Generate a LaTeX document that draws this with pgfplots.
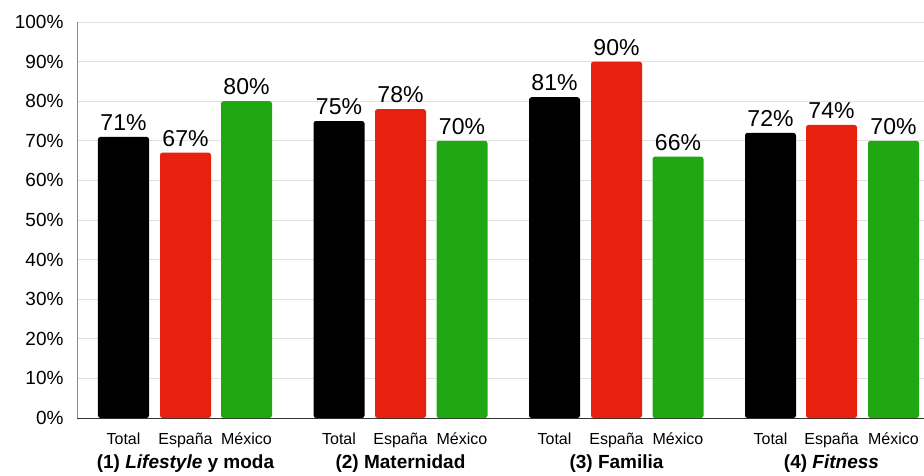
\documentclass[border=0pt]{standalone}
\usepackage{pgfplots}
\pgfplotsset{compat=1.18}
\usepackage{fontspec}
\setmainfont{Liberation Sans}

\definecolor{barred}{RGB}{232,32,14}
\definecolor{bargreen}{RGB}{32,168,18}
\definecolor{gridgray}{RGB}{224,224,224}

\begin{document}
\begin{tikzpicture}
\useasboundingbox (0,0) rectangle (924pt,475pt);
\begin{axis}[
  at={(77pt,57pt)}, anchor=south west,
  scale only axis, width=847pt, height=396pt,
  xmin=77, xmax=924, ymin=0, ymax=100,
  axis lines=left, axis line style={-},
  x axis line style={draw=black!80, line width=0.8pt},
  y axis line style={draw=black!45, line width=0.8pt},
  ymajorgrids, grid style={gridgray, line width=0.8pt},
  major tick length=0pt,
  /pgf/number format/assume math mode=true,
  ytick={0,10,...,100},
  yticklabel={\pgfmathprintnumber{\tick}\%},
  yticklabel style={font=\fontsize{19}{22}\selectfont, xshift=-10pt},
  xtick={123.5,185.5,246.5,339,400.5,462,554.5,616.5,678,770.5,831.5,893.5},
  xticklabels={Total,España,México,Total,España,México,Total,España,México,Total,España,México},
  xticklabel style={font=\fontsize{16}{19}\selectfont, anchor=base, yshift=-26pt},
  ybar, bar width=51, bar shift=0pt,
  nodes near coords={\pgfmathprintnumber{\pgfplotspointmeta}\%},
  nodes near coords style={font=\fontsize{23}{26}\selectfont, text=black, inner sep=0pt, anchor=south, yshift=6pt},
  clip=false,
]
% Total
\addplot[fill=black, draw=none, rounded corners=2.5pt] coordinates {
  (123.5,71) (339,75) (554.5,81) (770.5,72)};
% España
\addplot[fill=barred, draw=none, rounded corners=2.5pt] coordinates {
  (185.5,67) (400.5,78) (616.5,90) (831.5,74)};
% México
\addplot[fill=bargreen, draw=none, rounded corners=2.5pt] coordinates {
  (246.5,80) (462,70) (678,66) (893.5,70)};

% group captions
\begin{scope}[every node/.style={font=\fontsize{19}{22}\selectfont\bfseries, anchor=base, yshift=-50pt}]
\node at (axis cs:185.5,0) {(1) \textit{Lifestyle} y moda};
\node at (axis cs:400.5,0) {(2) Maternidad};
\node at (axis cs:616.5,0) {(3) Familia};
\node at (axis cs:831.5,0) {(4) \textit{Fitness}};
\end{scope}
\end{axis}
\end{tikzpicture}
\end{document}
